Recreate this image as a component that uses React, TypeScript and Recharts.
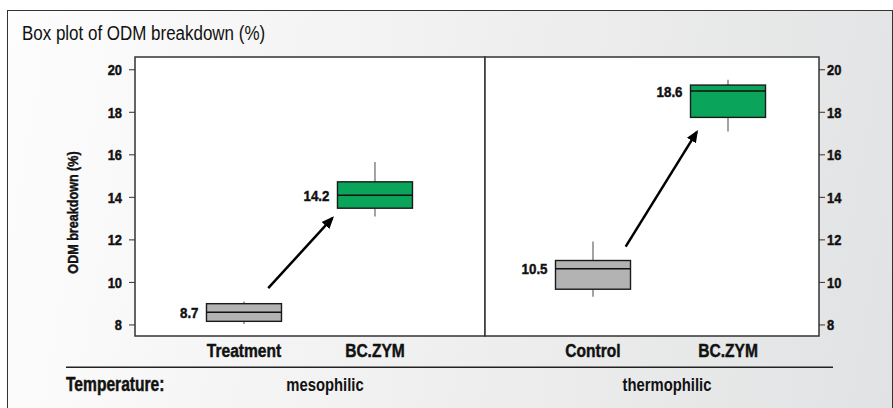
import React from 'react';
import { ComposedChart, Bar, XAxis, YAxis, ReferenceArea, ReferenceLine } from 'recharts';

// no condensed face is installed, so text is squeezed horizontally
const FONT = '"Liberation Sans", Arial, sans-serif';

const mesoGroups = ['Treatment', 'BC.ZYM'];
const thermoGroups = ['Control', 'BC.ZYM'];
const temperatures = ['mesophilic', 'thermophilic'];

const mesoMin = [8.05, 13.1];
const mesoQ1 = [8.17, 13.49];
const mesoMedian = [8.6, 14.1];
const mesoQ3 = [9.0, 14.73];
const mesoMax = [9.1, 15.66];
const mesoMean = [8.7, 14.2];

const thermoMin = [9.33, 17.1];
const thermoQ1 = [9.68, 17.76];
const thermoMedian = [10.64, 19.0];
const thermoQ3 = [11.03, 19.28];
const thermoMax = [11.92, 19.53];
const thermoMean = [10.5, 18.6];

const yTicks = [8, 10, 12, 14, 16, 18, 20];
const yDomain: [number, number] = [7.48, 20.6];
const boxColors = ['#b3b3b3', '#0aa55a'];

// arrow annotations, in (group index, %) units
const mesoArrow = [{ x: 0.185, y: 9.73 }, { x: 0.674, y: 13.02 }];
const thermoArrow = [{ x: 0.242, y: 11.68 }, { x: 0.768, y: 17.07 }];

const buildRows = (groups: string[], min: number[], q1: number[], med: number[], q3: number[], max: number[], mean: number[]) =>
  groups.map((group, i) => ({
    group,
    idx: i,
    min: min[i],
    q1: q1[i],
    median: med[i],
    q3: q3[i],
    max: max[i],
    mean: mean[i],
    color: boxColors[i],
  }));

const mesoRows = buildRows(mesoGroups, mesoMin, mesoQ1, mesoMedian, mesoQ3, mesoMax, mesoMean);
const thermoRows = buildRows(thermoGroups, thermoMin, thermoQ1, thermoMedian, thermoQ3, thermoMax, thermoMean);

const Cond = ({ x, y, sx = 0.84, size, weight = 700, anchor = 'start', dy, rotate = 0, children }: any) => (
  <text
    transform={`translate(${x},${y}) rotate(${rotate}) scale(${sx},1)`}
    x={0}
    y={0}
    dy={dy}
    textAnchor={anchor}
    fontFamily={FONT}
    fontSize={size}
    fontWeight={weight}
    fill="#111"
    stroke={weight >= 700 ? '#111' : 'none'}
    strokeWidth={0.45}
  >
    {children}
  </text>
);

const BoxShape = (props: any) => {
  const { x, y, width, height, payload } = props;
  const top0 = Math.min(y, y + height);
  const h = Math.abs(height);
  const span = payload.max - payload.min;
  const toPx = (v: number) => top0 + ((payload.max - v) / span) * h;
  const cx = x + width / 2;
  const boxTop = toPx(payload.q3);
  const boxBot = toPx(payload.q1);
  const med = toPx(payload.median);
  return (
    <g>
      <line x1={cx} x2={cx} y1={toPx(payload.max)} y2={boxTop} stroke="#666" strokeWidth={1.2} />
      <line x1={cx} x2={cx} y1={boxBot} y2={toPx(payload.min)} stroke="#666" strokeWidth={1.2} />
      <rect x={x} y={boxTop} width={width} height={boxBot - boxTop} fill={payload.color} stroke="#1a1a1a" strokeWidth={1.4} />
      <line x1={x} x2={x + width} y1={med} y2={med} stroke="#111" strokeWidth={1.4} />
      <Cond x={x - 8} y={med} dy="0.36em" anchor="end" size={15.5} sx={0.86}>
        {payload.mean.toFixed(1)}
      </Cond>
    </g>
  );
};

interface PanelProps {
  rows: any[];
  side: 'left' | 'right';
  width: number;
  xDomain: [number, number];
  arrow: { x: number; y: number }[];
  temperature: string;
}

const Panel = ({ rows, side, width, xDomain, arrow, temperature }: PanelProps) => {
  const markerId = `arrow-head-${side}`;
  return (
    <ComposedChart
      width={width}
      height={358}
      data={rows}
      margin={{ top: 7, right: side === 'left' ? 1 : 0, left: side === 'right' ? 1 : 0, bottom: 0 }}
    >
      <defs>
        <marker id={markerId} viewBox="0 0 10 10" refX="8" refY="5" markerWidth="5" markerHeight="5" orient="auto" markerUnits="strokeWidth">
          <path d="M0,0.8 L10,5 L0,9.2 z" fill="#000" />
        </marker>
      </defs>
      <XAxis
        type="number"
        dataKey="idx"
        domain={xDomain}
        allowDataOverflow
        ticks={[0, 1]}
        interval={0}
        axisLine={false}
        tickLine={false}
        tickMargin={2}
        height={72}
        tick={(p: any) => (
          <Cond x={p.x} y={p.y} dy="0.71em" anchor="middle" size={19} sx={0.82}>
            {rows[p.payload.value]?.group ?? ''}
          </Cond>
        )}
        label={(p: any) => {
          const vb = p.viewBox;
          return (
            <Cond x={vb.x + vb.width / 2 + 15} y={vb.y + 54.7} anchor="middle" size={18.5} sx={0.8} weight={600}>
              {temperature}
            </Cond>
          );
        }}
      />
      <YAxis
        orientation={side}
        domain={yDomain}
        allowDataOverflow
        ticks={yTicks}
        interval={0}
        width={side === 'left' ? 80 : 74}
        axisLine={false}
        tickSize={6}
        tickMargin={side === 'left' ? 7 : 2}
        tickLine={{ stroke: '#333', strokeWidth: 1 }}
        tick={(p: any) => (
          <Cond x={p.x} y={p.y} dy="0.36em" anchor={p.textAnchor} size={15} sx={0.86}>
            {p.payload.value}
          </Cond>
        )}
        label={
          side === 'left'
            ? (p: any) => {
                const vb = p.viewBox;
                return (
                  <Cond x={vb.x + 18} y={vb.y + vb.height / 2 + 16} dy="0.36em" rotate={-90} anchor="middle" size={14} sx={0.9}>
                    ODM breakdown (%)
                  </Cond>
                );
              }
            : undefined
        }
      />
      <ReferenceArea x1={xDomain[0]} x2={xDomain[1]} y1={yDomain[0]} y2={yDomain[1]} fill="#ffffff" fillOpacity={1} stroke="#333" strokeWidth={1.5} ifOverflow="visible" />
      <Bar dataKey={(d: any) => [d.min, d.max]} barSize={75} shape={BoxShape} isAnimationActive={false} />
      <ReferenceLine segment={arrow} stroke="#000" strokeWidth={2.5} markerEnd={`url(#${markerId})`} ifOverflow="visible" />
    </ComposedChart>
  );
};

export default function App() {
  return (
    <div style={{ position: 'fixed', left: 0, top: 0, width: 893, height: 408, overflow: 'hidden', background: '#fff' }}>
      <div
        style={{
          position: 'absolute',
          left: 7,
          top: 10,
          width: 886,
          height: 420,
          border: '1.5px solid #333',
          boxSizing: 'border-box',
          background: 'linear-gradient(100deg, #fdfdfd 0%, #f1f1f1 45%, #e1e2e3 100%)',
        }}
      />
      <svg width={893} height={408} style={{ position: 'absolute', left: 0, top: 0 }}>
        <Cond x={22} y={40} size={19.5} weight={400} sx={0.87}>
          Box plot of ODM breakdown (%)
        </Cond>
        <line x1={66} x2={833} y1={367.3} y2={367.3} stroke="#222" strokeWidth={1.5} />
        <Cond x={66} y={390.7} size={19.5} sx={0.8}>
          Temperature:
        </Cond>
      </svg>
      <div style={{ position: 'absolute', left: 55, top: 50 }}>
        <Panel rows={mesoRows} side="left" width={431} xDomain={[-0.832, 1.84]} arrow={mesoArrow} temperature={temperatures[0]} />
      </div>
      <div style={{ position: 'absolute', left: 484, top: 50 }}>
        <Panel rows={thermoRows} side="right" width={409} xDomain={[-0.8, 1.674]} arrow={thermoArrow} temperature={temperatures[1]} />
      </div>
    </div>
  );
}
